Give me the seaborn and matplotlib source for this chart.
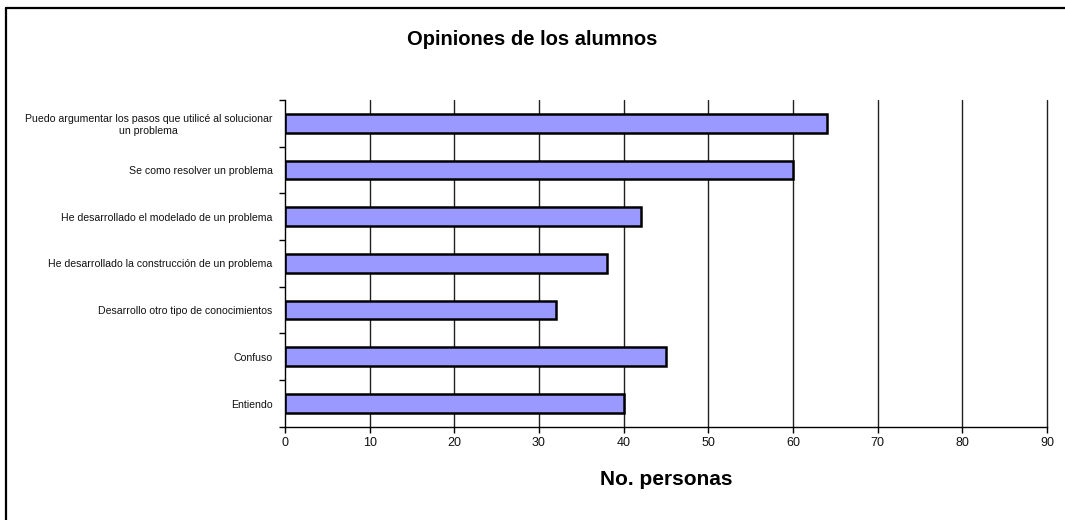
import seaborn as sns
import pandas as pd
import matplotlib.pyplot as plt
from matplotlib.ticker import FixedLocator
from matplotlib.lines import Line2D

categorias = [
    'Puedo argumentar los pasos que utilicé al solucionar\nun problema',
    'Se como resolver un problema',
    'He desarrollado el modelado de un problema',
    'He desarrollado la construcción de un problema',
    'Desarrollo otro tipo de conocimientos',
    'Confuso',
    'Entiendo',
]
personas = [64, 60, 42, 38, 32, 45, 40]
x_ticks = [0, 10, 20, 30, 40, 50, 60, 70, 80, 90]

BAR_COLOR = '#9999FF'

sns.set_style('white')
plt.rcParams['font.family'] = ['Liberation Sans', 'DejaVu Sans']

df = pd.DataFrame({'categoria': categorias, 'personas': personas})

fig = plt.figure(figsize=(10.65, 5.2), dpi=100)
ax = fig.add_axes([0.2676, 0.179, 0.7155, 0.629])

ax.set_axisbelow(True)
for t in x_ticks[1:]:
    ax.axvline(t, color='#202020', linewidth=1.0, zorder=0, clip_on=False)

sns.barplot(data=df, x='personas', y='categoria', orient='h', color=BAR_COLOR,
            saturation=1, width=0.4, edgecolor='black', linewidth=1.8, ax=ax)

ax.set_xlim(0, 90)
ax.set_ylim(len(categorias) - 0.5, -0.5)
ax.set_xticks(x_ticks)
ax.set_xticklabels([str(t) for t in x_ticks], fontsize=9, color='#111111')

ax.yaxis.set_minor_locator(FixedLocator([i - 0.5 for i in range(len(categorias) + 1)]))
ax.tick_params(axis='y', which='major', length=0, pad=9, labelsize=7.6, labelcolor='#111111')
ax.tick_params(axis='y', which='minor', length=4, width=1, color='black', direction='out', left=True)
ax.tick_params(axis='x', which='major', length=4, width=1, color='black', direction='out', bottom=True)
for lab in ax.get_yticklabels():
    lab.set_multialignment('center')

for side in ['top', 'right']:
    ax.spines[side].set_visible(False)
for side in ['left', 'bottom']:
    ax.spines[side].set_color('black')
    ax.spines[side].set_linewidth(1.0)

ax.set_ylabel('')
ax.set_xlabel('No. personas', fontsize=15, fontweight='bold', labelpad=15, color='black')
fig.suptitle('Opiniones de los alumnos', fontsize=14.5, fontweight='bold', y=0.943, color='black')

# marco exterior: solo borde superior e izquierdo
fig.lines.append(Line2D([0.0055, 1.0], [0.985, 0.985], transform=fig.transFigure,
                        color='black', linewidth=1.6))
fig.lines.append(Line2D([0.0055, 0.0055], [0.0, 0.985], transform=fig.transFigure,
                        color='black', linewidth=1.6))

fig.savefig('out.png', dpi=100, facecolor='white')
